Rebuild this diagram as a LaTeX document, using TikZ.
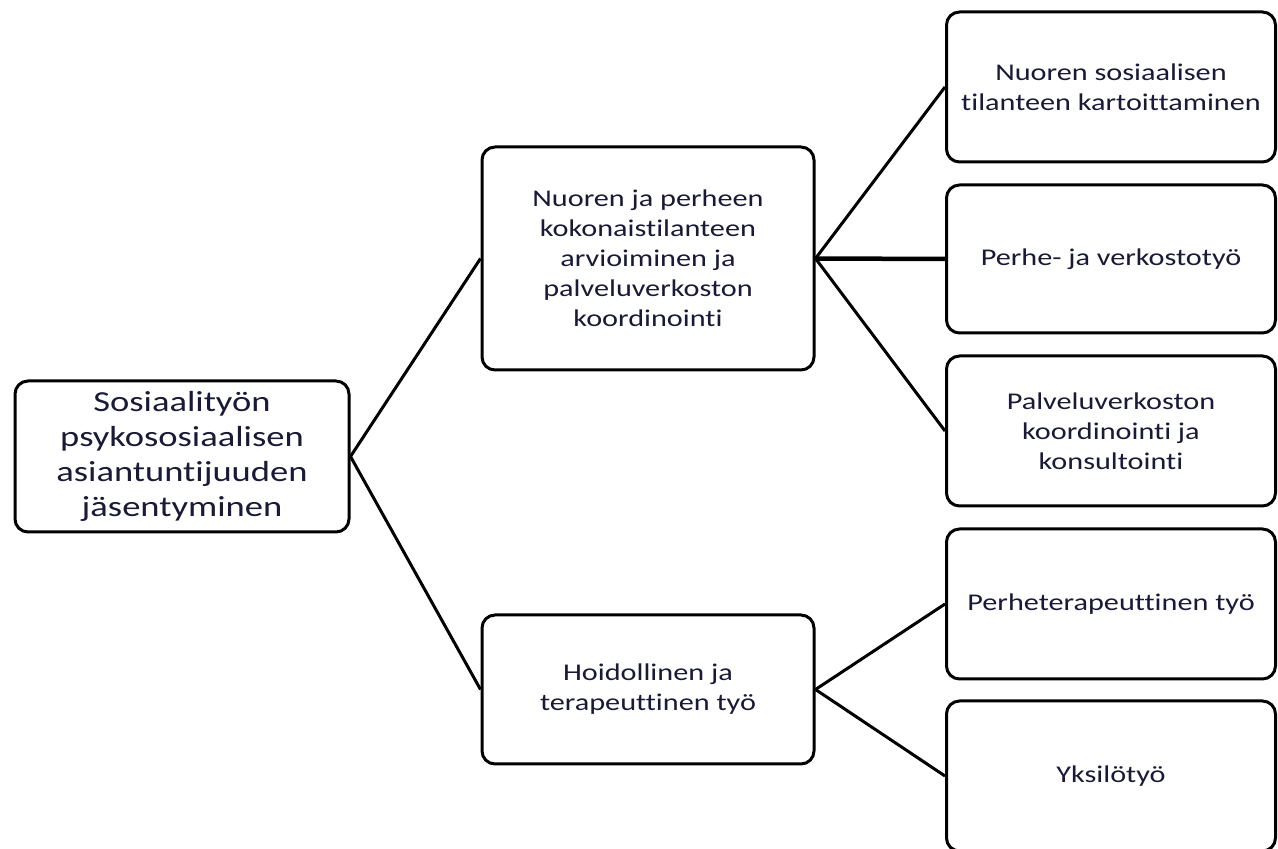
\documentclass[tikz,border=0pt]{standalone}
\usepackage{fontspec}
\setmainfont{Carlito}[FakeStretch=1.26,Ligatures=NoCommon]
\definecolor{txt}{rgb}{0.10,0.10,0.22}
\begin{document}
\begin{tikzpicture}[x=1pt,y=1pt,
  box/.style={draw=black,line width=3pt,rounded corners=13pt,rectangle,fill=white,
    align=center,text=txt,inner sep=0pt,
    font=\fontsize{24}{30}\selectfont},
  conn/.style={line width=3pt,draw=black}]
\useasboundingbox (0,0) rectangle (1278,849);
\node[box,minimum width=334,minimum height=151,font=\fontsize{29}{35}\selectfont] (root) at (182,392.5)
  {Sosiaalityön\\psykososiaalisen\\asiantuntijuuden\\jäsentyminen};
\node[box,minimum width=332,minimum height=223] (mt) at (648,590.5)
  {Nuoren ja perheen\\kokonaistilanteen\\arvioiminen ja\\palveluverkoston\\koordinointi};
\node[box,minimum width=332,minimum height=149] (mb) at (648,159.5)
  {Hoidollinen ja\\terapeuttinen työ};
\node[box,minimum width=329,minimum height=150] (r1) at (1111,762)
  {Nuoren sosiaalisen\\tilanteen kartoittaminen};
\node[box,minimum width=329,minimum height=148] (r2) at (1111,590)
  {Perhe- ja verkostotyö};
\node[box,minimum width=329,minimum height=150] (r3) at (1111,418)
  {Palveluverkoston\\koordinointi ja\\konsultointi};
\node[box,minimum width=329,minimum height=150] (r4) at (1111,245)
  {Perheterapeuttinen työ};
\node[box,minimum width=329,minimum height=150] (r5) at (1111,73)
  {Yksilötyö};
\draw[conn] (root.east) -- (mt.west);
\draw[conn] (root.east) -- (mb.west);
\draw[conn] (mt.east) -- (r1.west);
\draw[conn,line width=4.5pt] (mt.east) -- (r2.west);
\draw[conn] (mt.east) -- (r3.west);
\draw[conn] (mb.east) -- (r4.west);
\draw[conn] (mb.east) -- (r5.west);
\end{tikzpicture}
\end{document}
